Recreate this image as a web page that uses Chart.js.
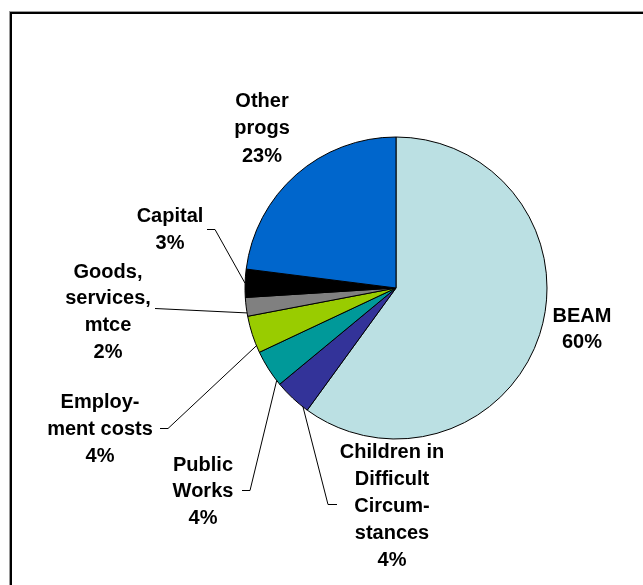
<!DOCTYPE html>
<html>
<head>
<meta charset="utf-8">
<script src="https://cdn.jsdelivr.net/npm/chart.js@4/dist/chart.umd.min.js"></script>
<style>
  html, body { margin: 0; padding: 0; background: #fff; }
  #wrap { position: relative; width: 643px; height: 585px; }
</style>
</head>
<body>
<div id="wrap"><canvas id="myChart" width="643" height="585"></canvas></div>
<script>
// budget shares, clockwise from 12 o'clock
const categories = [
  ['BEAM'],
  ['Children in', 'Difficult', 'Circum-', 'stances'],
  ['Public', 'Works'],
  ['Employ-', 'ment costs'],
  ['Goods,', 'services,', 'mtce'],
  ['Capital'],
  ['Other', 'progs']
];
const shares = [60, 4, 4, 4, 2, 3, 23];
const colours = ['#BBE0E3', '#333399', '#009999', '#99CC00', '#808080', '#000000', '#0066CC'];

// label placement, pixels from the pie centre (first text line)
const labelPos = [
  [186, 28], [-4, 164], [-193, 177], [-296, 114], [-288, -16], [-226, -72], [-134, -187]
];
const lineGap = [26, 27, 26.5, 27, 26.7, 27, 27.5];
// leader lines: where on the slice they attach (0..1 along the arc), elbow and end near the text
const leaders = [
  null,
  { at: 0.14, elbow: [-68, 216], end: [-59, 216] },
  { at: 0.125, elbow: [-146, 202], end: [-154, 202] },
  { at: 0.19, elbow: [-228, 140], end: [-236, 140] },
  { at: 0.18, elbow: [-241, 20], end: [-241, 20] },
  { at: 0.5, elbow: [-181, -59], end: [-189, -59] },
  null
];

const frame = {
  id: 'frame',
  beforeDraw(chart) {
    const ctx = chart.ctx;
    ctx.save();
    ctx.fillStyle = '#9a9a9a';
    ctx.fillRect(9, 11, 634, 1);
    ctx.fillRect(9, 11, 1, 574);
    ctx.fillStyle = '#000';
    ctx.fillRect(10, 12, 633, 2);
    ctx.fillRect(10, 12, 2, 573);
    ctx.restore();
  }
};

const pieLabels = {
  id: 'pieLabels',
  afterDatasetsDraw(chart) {
    const ctx = chart.ctx;
    const arcs = chart.getDatasetMeta(0).data;
    ctx.save();
    ctx.font = 'bold 20px "Liberation Sans", Arial, sans-serif';
    ctx.fillStyle = '#000';
    ctx.textAlign = 'center';
    ctx.textBaseline = 'middle';
    ctx.strokeStyle = '#000';
    ctx.lineWidth = 1;
    arcs.forEach((arc, i) => {
      const p = arc.getProps(['x', 'y', 'startAngle', 'endAngle', 'outerRadius'], true);
      const cx = p.x, cy = p.y;
      const lines = categories[i].concat([shares[i] + '%']);
      lines.forEach((t, k) => {
        ctx.fillText(t, cx + labelPos[i][0], cy + labelPos[i][1] + k * lineGap[i]);
      });
      const ld = leaders[i];
      if (ld) {
        const a = p.startAngle + (p.endAngle - p.startAngle) * ld.at;
        const sx = cx + Math.cos(a) * p.outerRadius;
        const sy = cy + Math.sin(a) * p.outerRadius;
        ctx.beginPath();
        ctx.moveTo(sx, sy);
        ctx.lineTo(cx + ld.elbow[0], cy + ld.elbow[1] + 0.5);
        ctx.lineTo(cx + ld.end[0], cy + ld.end[1] + 0.5);
        ctx.stroke();
      }
    });
    ctx.restore();
  }
};

const CHART = document.getElementById('myChart');
new Chart(CHART, {
  type: 'pie',
  data: {
    labels: categories.map(c => c.join(' ')),
    datasets: [{
      data: shares,
      backgroundColor: colours,
      borderColor: '#000',
      borderWidth: 1,
      radius: 151
    }]
  },
  options: {
    responsive: false,
    animation: false,
    layout: { padding: { left: 149, right: 0, top: 0, bottom: 9 } },
    plugins: {
      legend: { display: false },
      tooltip: { enabled: false }
    }
  },
  plugins: [frame, pieLabels]
});
</script>
</body>
</html>
